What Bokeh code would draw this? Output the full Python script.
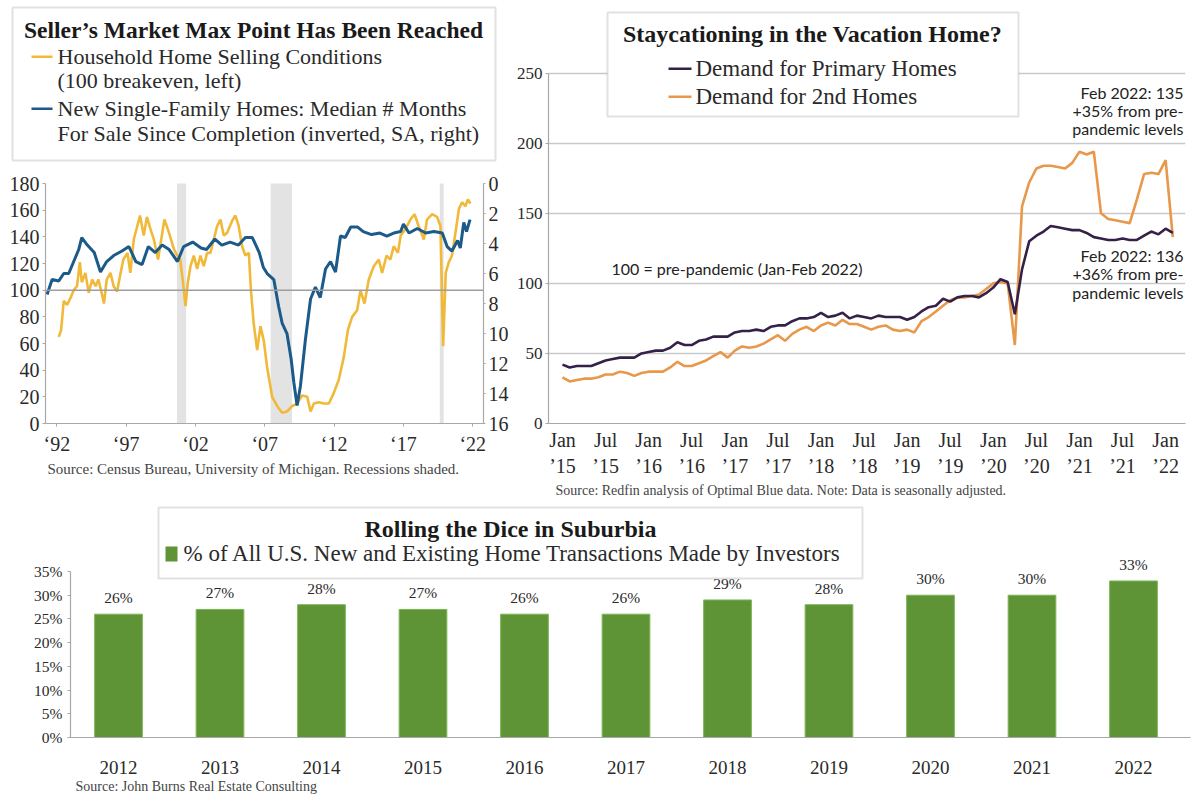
from bokeh.plotting import figure
from bokeh.models import (Range1d, LinearAxis, FixedTicker, BoxAnnotation, Label,
                          Title, Span, PrintfTickFormatter)
from bokeh.layouts import column, row
from bokeh.embed import file_html
from bokeh.resources import INLINE
from bokeh.core.properties import value

# ------------------------------------------------------------------ data
# Panel 1: Household home selling conditions (left axis) and
# median months for sale since completion (right axis, inverted)
selling_years = [
    1992.64, 1992.81, 1993.00, 1993.24, 1993.48, 1993.72, 1993.96, 1994.16, 1994.30, 1994.56,
    1994.80, 1995.05, 1995.30, 1995.50, 1995.80, 1995.90, 1996.10, 1996.37, 1996.60, 1996.85,
    1997.10, 1997.30, 1997.60, 1997.80, 1998.05, 1998.30, 1998.50, 1998.77, 1999.00, 1999.25,
    1999.50, 1999.80, 2000.00, 2000.26, 2000.50, 2000.74, 2000.94, 2001.18, 2001.40, 2001.60,
    2001.78, 2001.95, 2002.14, 2002.38, 2002.62, 2002.86, 2003.10, 2003.34, 2003.58, 2003.82,
    2004.06, 2004.30, 2004.54, 2004.78, 2005.14, 2005.38, 2005.62, 2005.86, 2006.10, 2006.35,
    2006.50, 2006.70, 2006.95, 2007.19, 2007.43, 2007.67, 2008.03, 2008.40, 2008.75, 2009.10,
    2009.47, 2009.83, 2010.20, 2010.56, 2010.80, 2011.04, 2011.40, 2011.76, 2012.12, 2012.48,
    2012.84, 2013.20, 2013.49, 2013.80, 2014.16, 2014.40, 2014.69, 2015.00, 2015.36, 2015.72,
    2015.96, 2016.28, 2016.56, 2016.80, 2017.10, 2017.30, 2017.65, 2018.00, 2018.30, 2018.60,
    2018.97, 2019.20, 2019.57, 2019.93, 2020.17, 2020.36, 2020.55, 2020.77, 2021.00, 2021.25,
    2021.50, 2021.73, 2021.97, 2022.14, 2022.33,
]
selling_index = [
    65, 70, 92, 89, 94, 100, 103, 121, 106, 113,
    98, 108, 103, 108, 95, 90, 108, 113, 103, 99,
    113, 123, 128, 113, 138, 148, 156, 141, 155, 146,
    138, 123, 136, 153, 146, 138, 131, 126, 123, 106,
    88, 106, 118, 126, 116, 126, 118, 128, 128, 138,
    148, 153, 141, 143, 152, 156, 148, 133, 126, 128,
    100, 75, 55, 73, 62, 42, 20, 13, 8, 9,
    13, 15, 21, 20, 9, 15, 16, 15, 15, 23,
    33, 50, 70, 80, 85, 100, 90, 108, 118, 123,
    113, 126, 123, 133, 128, 141, 146, 153, 157, 148,
    138, 153, 157, 155, 148, 58, 113, 121, 126, 143,
    161, 166, 163, 168, 165,
]
months_years = [
    1991.80, 1992.16, 1992.64, 1993.00, 1993.36, 1993.72, 1994.08, 1994.30, 1994.70, 1995.20,
    1995.65, 1996.10, 1996.60, 1997.20, 1997.70, 1998.20, 1998.65, 1999.10, 1999.60, 2000.10,
    2000.60, 2001.20, 2001.65, 2002.30, 2002.90, 2003.30, 2003.90, 2004.40, 2005.00, 2005.60,
    2006.10, 2006.60, 2007.10, 2007.40, 2007.67, 2008.15, 2008.50, 2008.75, 2009.10, 2009.40,
    2009.60, 2009.83, 2010.07, 2010.43, 2010.80, 2011.15, 2011.50, 2011.88, 2012.24, 2012.60,
    2012.96, 2013.30, 2013.70, 2014.20, 2014.60, 2015.20, 2015.80, 2016.30, 2016.80, 2017.30,
    2017.50, 2017.90, 2018.50, 2019.10, 2019.70, 2020.30, 2020.65, 2021.00, 2021.40, 2021.60,
    2021.85, 2022.05, 2022.30,
]
months_for_sale = [
    7.4, 6.4, 6.5, 6.0, 6.0, 5.2, 4.4, 3.6, 4.1, 4.6,
    5.9, 5.2, 4.8, 4.5, 4.2, 5.2, 5.4, 4.2, 4.6, 4.1,
    4.4, 5.2, 4.2, 3.9, 4.3, 4.4, 3.7, 4.1, 3.9, 4.1,
    3.6, 3.6, 4.6, 5.6, 6.0, 6.4, 8.2, 9.3, 10.0, 11.7,
    13.3, 14.8, 13.5, 10.4, 7.7, 6.9, 7.6, 5.7, 5.2, 5.9,
    3.5, 3.6, 2.9, 2.9, 3.2, 3.4, 3.3, 3.5, 3.3, 3.2,
    2.7, 3.3, 3.0, 3.3, 3.2, 3.3, 4.2, 4.5, 3.8, 4.3,
    2.6, 3.2, 2.4,
]
recession_start = [2001.17, 2007.92, 2020.12]
recession_end = [2001.83, 2009.46, 2020.40]
p1_left_ticks = [0, 20, 40, 60, 80, 100, 120, 140, 160, 180]
p1_right_ticks = [0, 2, 4, 6, 8, 10, 12, 14, 16]
p1_xticks = [1992.5, 1997.5, 2002.5, 2007.5, 2012.5, 2017.5, 2022.5]
p1_xlabels = ["‘92", "‘97", "‘02", "‘07", "‘12", "‘17", "‘22"]

# Panel 2: Redfin demand index, monthly Jan 2015 .. Feb 2022 (month number from Jan 2015)
demand_month = list(range(86))
primary_demand = [
    42, 40, 41, 41, 41, 43, 45, 46, 47, 47,
    47, 50, 51, 52, 52, 54, 58, 56, 56, 59,
    60, 62, 62, 62, 65, 66, 66, 67, 66, 69,
    70, 70, 73, 75, 75, 76, 79, 76, 77, 79,
    75, 77, 76, 75, 77, 76, 76, 76, 74, 76,
    80, 83, 84, 89, 87, 90, 91, 91, 90, 93,
    97, 103, 101, 78, 110, 130, 134, 137, 141, 140,
    139, 138, 138, 136, 133, 132, 131, 131, 132, 131,
    131, 134, 137, 135, 139, 136,
]
second_demand = [
    33, 30, 31, 32, 32, 33, 35, 35, 37, 36,
    34, 36, 37, 37, 37, 40, 44, 41, 41, 43,
    45, 48, 51, 47, 52, 55, 54, 55, 57, 60,
    63, 59, 64, 67, 69, 66, 70, 72, 70, 74,
    71, 71, 69, 67, 69, 70, 67, 66, 67, 65,
    73, 76, 80, 84, 88, 90, 90, 91, 92, 96,
    100, 101, 100, 56, 155, 172, 182, 184, 184, 183,
    182, 186, 194, 192, 194, 150, 146, 145, 144, 143,
    160, 178, 179, 178, 188, 133,
]
p2_yticks = [0, 50, 100, 150, 200, 250]
p2_xticks = [0, 6, 12, 18, 24, 30, 36, 42, 48, 54, 60, 66, 72, 78, 84]
p2_xlabels = ["Jan\n’15", "Jul\n’15", "Jan\n’16", "Jul\n’16", "Jan\n’17", "Jul\n’17",
              "Jan\n’18", "Jul\n’18", "Jan\n’19", "Jul\n’19", "Jan\n’20", "Jul\n’20",
              "Jan\n’21", "Jul\n’21", "Jan\n’22"]

# Panel 3: investor share of transactions
inv_years = [2012, 2013, 2014, 2015, 2016, 2017, 2018, 2019, 2020, 2021, 2022]
inv_share = [26, 27, 28, 27, 26, 26, 29, 28, 30, 30, 33]
inv_labels = ["26%", "27%", "28%", "27%", "26%", "26%", "29%", "28%", "30%", "30%", "33%"]
p3_yticks = [0, 5, 10, 15, 20, 25, 30, 35]

# ------------------------------------------------------------------ style
SERIF = "Liberation Serif"
SANS = "Lato"
YELLOW = "#F1B93A"
BLUE = "#1C5A8A"
PURPLE = "#35204A"
ORANGE = "#E8984A"
GREEN = "#5E9436"
AXIS = "#A8A8A8"
TXT = "#2a2a2a"
BOXLINE = "#9A9A9A"


def base(fig):
    fig.outline_line_color = None
    fig.background_fill_color = "white"
    fig.border_fill_color = "white"
    fig.xgrid.visible = False
    fig.ygrid.visible = False
    if "frame_align" in fig.properties():
        fig.frame_align = False


def style_axis(ax, size):
    ax.major_label_text_font = SERIF
    ax.major_label_text_font_size = size
    ax.major_label_text_color = TXT
    ax.axis_line_color = AXIS
    ax.axis_line_width = 1.2
    ax.major_tick_line_color = AXIS
    ax.minor_tick_line_color = None


def lab(fig, x, y, text, size, font=SERIF, align="left", bold=False, color=TXT):
    fig.add_layout(Label(x=x, y=y, text=text, text_font=font, text_font_size=size,
                         text_align=align, text_baseline="middle", text_color=color,
                         text_font_style="bold" if bold else "normal"))


# ------------------------------------------------------------------ panel 1 header (title + legend)
hdr = figure(width=511, height=165, output_backend="svg", toolbar_location=None,
             x_range=Range1d(0, 511), y_range=Range1d(165, 0),
             x_axis_type=None, y_axis_type=None,
             min_border_left=0, min_border_right=0, min_border_top=0, min_border_bottom=0)
base(hdr)
hdr.add_layout(BoxAnnotation(left=12, right=495, top=7, bottom=160,
                             fill_color="white", fill_alpha=1, line_color=BOXLINE, line_width=2))
lab(hdr, 253, 29, "Seller’s Market Max Point Has Been Reached", "23.5px", bold=True,
    align="center", color="#1a1a1a")
hdr.add_layout(BoxAnnotation(left=31, right=52, top=55, bottom=57.5,
                             fill_color=YELLOW, fill_alpha=1, line_alpha=0))
lab(hdr, 57, 56, "Household Home Selling Conditions", "22px")
lab(hdr, 57, 80, "(100 breakeven, left)", "22px")
hdr.add_layout(BoxAnnotation(left=31, right=52, top=107, bottom=109.5,
                             fill_color=BLUE, fill_alpha=1, line_alpha=0))
lab(hdr, 57, 108, "New Single-Family Homes: Median # Months", "22px")
lab(hdr, 57, 133, "For Sale Since Completion (inverted, SA, right)", "22px")

# ------------------------------------------------------------------ panel 1 chart
def X1(px):
    return 1992.55 + (px - 57) * 0.07212


P1_TOP = (423 - 165) / 1.333

p1 = figure(width=511, height=335, output_backend="svg", toolbar_location=None,
            x_range=Range1d(X1(45), X1(483)), y_range=Range1d(0, P1_TOP),
            min_border_left=45, min_border_right=28, min_border_top=0, min_border_bottom=77)
base(p1)
p1.extra_y_ranges = {"months": Range1d(start=16, end=(180 - P1_TOP) / 11.25)}

p1.quad(left=recession_start, right=recession_end, bottom=0, top=180,
        fill_color="#E3E3E3", line_alpha=0)
p1.add_layout(Span(location=100, dimension="width", line_color="#9E9E9E", line_width=1.5))
p1.line(selling_years, selling_index, line_color=YELLOW, line_width=2.6)
p1.line(months_years, months_for_sale, y_range_name="months", line_color=BLUE, line_width=3)

p1.yaxis.ticker = FixedTicker(ticks=p1_left_ticks)
p1.yaxis.bounds = (0, 180)
style_axis(p1.yaxis[0], "20px")
p1.yaxis.major_tick_out = 3
p1.yaxis.major_tick_in = 0
p1.yaxis.major_label_standoff = 3

rax = LinearAxis(y_range_name="months", ticker=FixedTicker(ticks=p1_right_ticks), bounds=(0, 16))
style_axis(rax, "20px")
rax.major_tick_out = 2
rax.major_tick_in = 0
rax.major_label_standoff = 3
p1.add_layout(rax, "right")

p1.xaxis.ticker = FixedTicker(ticks=p1_xticks)
p1.xaxis.major_label_overrides = dict(zip(p1_xticks, p1_xlabels))
style_axis(p1.xaxis[0], "20px")
p1.xaxis.major_tick_out = 3
p1.xaxis.major_tick_in = 0
p1.xaxis.major_label_standoff = 6

p1.add_layout(Title(text="Source: Census Bureau, University of Michigan. Recessions shaded.",
                    align="left", offset=2, text_font=SERIF, text_font_size="15px",
                    text_font_style="normal", text_color="#444444", standoff=2), "below")

# ------------------------------------------------------------------ panel 2
def M(px):
    return (px - 562) / 7.18


def Y2(py):
    return (423 - py) / 1.4012


p2 = figure(width=685, height=500, output_backend="svg", toolbar_location=None,
            x_range=Range1d(M(548), M(1185)), y_range=Range1d(0, Y2(0)),
            min_border_left=37, min_border_right=11, min_border_top=0, min_border_bottom=77)
base(p2)
p2.ygrid.visible = True
p2.ygrid.ticker = FixedTicker(ticks=p2_yticks[1:])
p2.ygrid.grid_line_color = "#C9C9C9"
p2.ygrid.grid_line_width = 1.5

p2.line(demand_month, second_demand, line_color=ORANGE, line_width=2.6)
p2.line(demand_month, primary_demand, line_color=PURPLE, line_width=2.6)

p2.yaxis.ticker = FixedTicker(ticks=p2_yticks)
p2.yaxis.bounds = (0, 250)
style_axis(p2.yaxis[0], "17px")
p2.yaxis.major_tick_out = 3
p2.yaxis.major_tick_in = 0
p2.yaxis.major_label_standoff = 3

p2.xaxis.ticker = FixedTicker(ticks=p2_xticks)
p2.xaxis.major_label_overrides = dict(zip(p2_xticks, p2_xlabels))
style_axis(p2.xaxis[0], "20px")
p2.xaxis.major_tick_out = 0
p2.xaxis.major_tick_in = 0
p2.xaxis.major_label_standoff = 5

p2.add_layout(Title(text="Source: Redfin analysis of Optimal Blue data.  Note: Data is seasonally adjusted.",
                    align="left", offset=7, text_font=SERIF, text_font_size="14px",
                    text_font_style="normal", text_color="#444444", standoff=2), "below")

p2.add_layout(BoxAnnotation(left=M(607), right=M(1018), top=Y2(12), bottom=Y2(116),
                            fill_color="white", fill_alpha=1, line_color=BOXLINE, line_width=2))
lab(p2, M(812), Y2(33), "Staycationing in the Vacation Home?", "24px", bold=True,
    align="center", color="#1a1a1a")
p2.add_layout(BoxAnnotation(left=M(668), right=M(691), top=Y2(67), bottom=Y2(69.5),
                            fill_color=PURPLE, fill_alpha=1, line_alpha=0))
lab(p2, M(695), Y2(68), "Demand for Primary Homes", "23px")
p2.add_layout(BoxAnnotation(left=M(668), right=M(691), top=Y2(95), bottom=Y2(97.5),
                            fill_color=ORANGE, fill_alpha=1, line_alpha=0))
lab(p2, M(695), Y2(96), "Demand for 2nd Homes", "23px")

for py, t in [(92, "Feb 2022: 135"), (110, "+35% from pre-"), (128, "pandemic levels"),
              (255, "Feb 2022: 136"), (273, "+36% from pre-"), (292, "pandemic levels")]:
    lab(p2, M(1183), Y2(py), t, "16px", font=SANS, align="right", color="#222222")
lab(p2, M(611), Y2(268), "100 = pre-pandemic (Jan-Feb 2022)", "16px", font=SANS, color="#222222")

# ------------------------------------------------------------------ panel 3
def X3(px):
    return 2012 + (px - 118) / 101.5


def Y3(py):
    return (737 - py) / 4.743


p3 = figure(width=1196, height=296, output_backend="svg", toolbar_location=None,
            x_range=Range1d(X3(70), X3(1190)), y_range=Range1d(0, Y3(500)),
            min_border_left=70, min_border_right=6, min_border_top=0, min_border_bottom=59)
base(p3)
p3.vbar(x=inv_years, top=inv_share, width=0.47, fill_color=GREEN, line_color="#7DB455",
        line_width=1)
p3.text(x=inv_years, y=inv_share, text=inv_labels, text_align="center", text_baseline="bottom",
        y_offset=-8, text_font=value(SERIF), text_font_size="15.5px", text_color=TXT)

p3.yaxis.ticker = FixedTicker(ticks=p3_yticks)
p3.yaxis.formatter = PrintfTickFormatter(format="%d%%")
p3.yaxis.bounds = (0, 35)
style_axis(p3.yaxis[0], "15.5px")
p3.yaxis.major_tick_out = 3
p3.yaxis.major_tick_in = 0
p3.yaxis.major_label_standoff = 5

p3.xaxis.ticker = FixedTicker(ticks=inv_years)
style_axis(p3.xaxis[0], "19px")
p3.xaxis.major_tick_out = 0
p3.xaxis.major_tick_in = 0
p3.xaxis.major_label_standoff = 23

p3.add_layout(Title(text="Source:  John Burns Real Estate Consulting",
                    align="left", offset=5, text_font=SERIF, text_font_size="14px",
                    text_font_style="normal", text_color="#444444", standoff=0), "below")

p3.add_layout(BoxAnnotation(left=X3(158), right=X3(862), top=Y3(507), bottom=Y3(578),
                            fill_color="white", fill_alpha=1, line_color=BOXLINE, line_width=2))
lab(p3, X3(510), Y3(528), "Rolling the Dice in Suburbia", "24px", bold=True, align="center",
    color="#1a1a1a")
p3.add_layout(BoxAnnotation(left=X3(165), right=X3(177), top=Y3(546), bottom=Y3(561),
                            fill_color=GREEN, fill_alpha=1, line_alpha=0))
lab(p3, X3(183), Y3(553), "% of All U.S. New and Existing Home Transactions Made by Investors", "23px")

layout = column(row(column(hdr, p1), p2), p3)
open("out.html", "w").write(file_html(layout, INLINE, "Housing charts"))
